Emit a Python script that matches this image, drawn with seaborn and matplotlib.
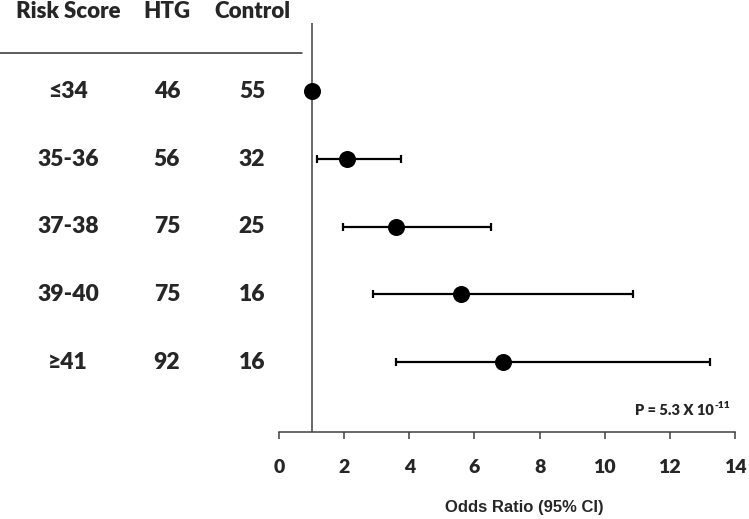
import matplotlib
matplotlib.use("Agg")
import matplotlib.pyplot as plt
import matplotlib.transforms as mtransforms
from matplotlib import font_manager
from matplotlib.lines import Line2D
import numpy as np
import pandas as pd
import seaborn as sns

# ── Data ──────────────────────────────────────────────
risk_scores = ["≤34", "35-36", "37-38", "39-40", "≥41"]
htg_counts = [46, 56, 75, 75, 92]
control_counts = [55, 32, 25, 16, 16]
odds_ratio = [1.0, 2.10, 3.59, 5.59, 6.88]
ci_low = [np.nan, 1.17, 1.97, 2.89, 3.58]
ci_high = [np.nan, 3.74, 6.52, 10.87, 13.22]
x_ticks = [0, 2, 4, 6, 8, 10, 12, 14]
headers = ["Risk Score", "HTG", "Control"]
p_main = "P = 5.3 X 10"
p_exp = "-11"
# ───────────────────────────────────────────────────────


def bold_font(family, size, weight=700):
    return font_manager.FontProperties(family=family, weight=weight, size=size)


df = pd.DataFrame({
    "risk": risk_scores,
    "row": np.arange(len(risk_scores)),
    "or": odds_ratio,
    "lo": ci_low,
    "hi": ci_high,
})

sns.set_theme(style="white")
plt.rcParams["font.family"] = ["Lato", "DejaVu Sans"]

W, H = 749, 519
fig = plt.figure(figsize=(W / 100, H / 100), dpi=100)
ax = fig.add_axes([279 / W, 1 - 431.7 / H, (735 - 279) / W, (431.7 - 23) / H])

# CI whiskers
ci = df.dropna()
ax.errorbar(ci["or"], ci["row"],
            xerr=[ci["or"] - ci["lo"], ci["hi"] - ci["or"]],
            fmt="none", ecolor="black", elinewidth=1.6, capsize=3, capthick=1.6,
            zorder=2)
sns.scatterplot(data=df, x="or", y="row", ax=ax, s=150, color="black",
                edgecolor="black", linewidth=0, zorder=3, legend=False)

ax.axvline(1, color="#404040", lw=1.1, zorder=1)

ax.set_xlim(0, 14)
ax.set_ylim(5.03, -1.01)
ax.set_xticks(x_ticks)
ax.set_xticklabels([str(t) for t in x_ticks], fontproperties=bold_font("Lato", 14, 800))
ax.set_yticks([])
ax.set_ylabel("")
ax.set_xlabel("Odds Ratio (95% CI)", fontproperties=bold_font("Liberation Sans", 12))
ax.xaxis.set_label_coords(0.539, -0.168)
for s in ["left", "right", "top"]:
    ax.spines[s].set_visible(False)
ax.spines["bottom"].set_color("#404040")
ax.spines["bottom"].set_linewidth(1.1)
ax.tick_params(axis="x", bottom=True, direction="out", length=5, width=1.1,
               color="#404040", pad=15)

# table on the left
trans = mtransforms.blended_transform_factory(fig.transFigure, ax.transData)
col_x = [68 / W, 167 / W, 252 / W]
row_font = bold_font("Lato", 16.5, 800)
for i, r in enumerate(risk_scores):
    vals = [r, str(htg_counts[i]), str(control_counts[i])]
    for cx, v in zip(col_x, vals):
        ax.text(cx, i, v, transform=trans, ha="center", va="center",
                fontproperties=row_font, clip_on=False)
head_font = bold_font("Lato", 16, 800)
for cx, h in zip(col_x, headers):
    fig.text(cx, 1 - 12 / H, h, ha="center", va="center", fontproperties=head_font)
fig.add_artist(Line2D([0, 302 / W], [1 - 53 / H, 1 - 53 / H],
                      color="#303030", lw=1.1))

# p-value with superscript exponent
sup = fig.text(730 / W, 1 - 406 / H, p_exp, ha="right", va="center",
               fontproperties=bold_font("Lato", 7.5, 800))
ax.annotate(p_main, xy=(0, 0), xycoords=sup, xytext=(-0.5, -3),
            textcoords="offset points", ha="right", va="baseline",
            fontproperties=bold_font("Lato", 10.5, 800), annotation_clip=False)

fig.savefig("out.png", dpi=100)
